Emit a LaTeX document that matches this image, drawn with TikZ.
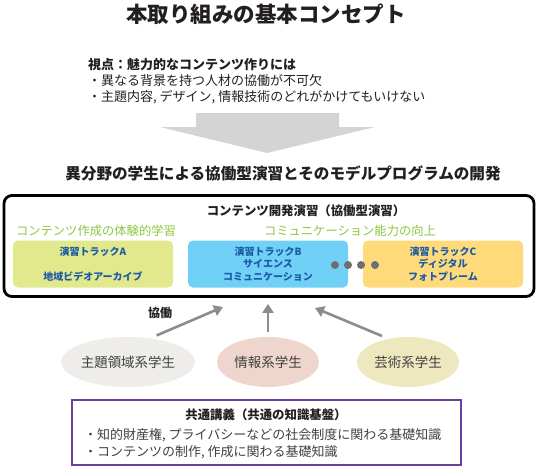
\documentclass[tikz,border=0pt]{standalone}
\usepackage{fontspec}
\setmainfont{Noto Sans CJK JP}
\usetikzlibrary{arrows.meta,positioning,shapes.geometric,calc}
\definecolor{InkBlack}{HTML}{231F20}
\definecolor{InkGray}{HTML}{404040}
\definecolor{LeafGreen}{HTML}{8DC63F}
\definecolor{TrackBlue}{HTML}{1C5AA6}
\definecolor{FillA}{HTML}{E1E98C}
\definecolor{FillB}{HTML}{70D0F6}
\definecolor{FillC}{HTML}{FFDA7A}
\definecolor{DotGray}{HTML}{6D6E71}
\definecolor{ArrowGray}{HTML}{8C8C8C}
\definecolor{BigArrow}{HTML}{D4D4D4}
\definecolor{StudGray}{HTML}{EEEDE9}
\definecolor{StudRose}{HTML}{EED6CC}
\definecolor{StudSand}{HTML}{EEE8BF}
\definecolor{CourseViolet}{HTML}{6C3F9E}
\tikzset{
  trackbox/.style={rounded corners=5pt, minimum width=160pt, minimum height=47pt, inner sep=0pt, align=center, text=TrackBlue, font=\fontsize{10}{12.5}\selectfont\bfseries},
  greenlabel/.style={text=LeafGreen, font=\fontsize{12.3}{14}\selectfont, inner sep=0pt},
  studellipse/.style={ellipse, minimum width=102pt, minimum height=50pt, inner sep=0pt, text=InkGray, font=\fontsize{13.5}{16}\selectfont},
  arrow/.style={-{Triangle[length=9pt, width=11pt]}, line width=2.6pt, draw=ArrowGray}
}
\begin{document}
\begin{tikzpicture}[x=1pt, y=-1pt, font=\fontsize{12}{16}\selectfont]
    \useasboundingbox (0,0) rectangle (539,469);
    % title and viewpoint
    \node[text=InkBlack, font=\fontsize{21.5}{24}\selectfont\bfseries] (title) at (266,14) {本取り組みの基本コンセプト};
    \node[anchor=west, align=left, inner sep=0pt, text=InkBlack, font=\fontsize{13}{16}\selectfont] (viewpoint) at (88,81)
      {\textbf{視点：魅力的なコンテンツ作りには}\\・異なる背景を持つ人材の協働が不可欠\\・主題内容, デザイン, 情報技術のどれがかけてもいけない};
    \fill[BigArrow] (196,113) -- (339,113) -- (339,127) -- (375,127) -- (267,153) -- (160,127) -- (196,127) -- cycle;
    \node[text=InkBlack, font=\fontsize{15.6}{18}\selectfont\bfseries] (goal) at (283,173) {異分野の学生による協働型演習とそのモデルプログラムの開発};

    % development exercise
    \node[draw=black, line width=2.8pt, rounded corners=8pt, minimum width=530pt, minimum height=101pt, inner sep=0pt] (devbox) at (269,246) {};
    \node[text=InkBlack, font=\fontsize{12.4}{14}\selectfont\bfseries] (devtitle) at (306,211) {コンテンツ開発演習（協働型演習）};
    \node[greenlabel] (expgoal) at (96,231) {コンテンツ作成の体験的学習};
    \node[greenlabel] (commgoal) at (350,231) {コミュニケーション能力の向上};
    \node[trackbox, fill=FillA] (trackA) at (93,264) {演習トラックA\\[12.5pt]地域ビデオアーカイブ};
    \node[trackbox, fill=FillB] (trackB) at (268,264) {演習トラックB\\サイエンス\\コミュニケーション};
    \node[trackbox, fill=FillC] (trackC) at (443,264) {演習トラックC\\ディジタル\\フォトプレーム};
    \foreach \x in {335,348,361,375}
      \fill[DotGray] (\x,265) circle (4);

    % students
    \node[studellipse, fill=StudGray] (subj) at (128,362) {主題領域系学生};
    \node[studellipse, fill=StudRose] (info) at (268,362) {情報系学生};
    \node[studellipse, fill=StudSand] (art) at (408,362) {芸術系学生};
    \coordinate (joinL) at (223,307);
    \coordinate (joinR) at (315,308);
    \draw[arrow, shorten <=7pt] (subj.47) -- (joinL);
    \draw[arrow, shorten <=5pt, shorten >=6pt] (info.north) -- (info.north |- devbox.south);
    \draw[arrow, shorten <=7pt] (art.130) -- (joinR);
    \node[text=InkBlack, font=\fontsize{12}{14}\selectfont\bfseries] (collab) at (160,313) {協働};

    % common lecture
    \node[draw=CourseViolet, line width=2.2pt, minimum width=389pt, minimum height=65pt, inner sep=0pt] (lecture) at (266.5,432.5) {};
    \node[text=InkBlack, font=\fontsize{12.4}{14}\selectfont\bfseries] (lectitle) at (266,415) {共通講義（共通の知識基盤）};
    \node[anchor=west, align=left, inner sep=0pt, text=InkGray, font=\fontsize{13}{17}\selectfont] (lecitems) at (84,443.5)
      {・知的財産権, プライバシーなどの社会制度に関わる基礎知識\\・コンテンツの制作, 作成に関わる基礎知識};
  \end{tikzpicture}
\end{document}
